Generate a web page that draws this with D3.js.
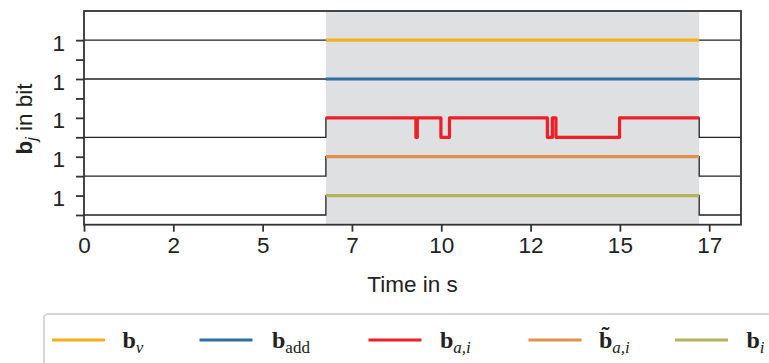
<!DOCTYPE html>
<html>
<head>
<meta charset="utf-8">
<script src="https://cdn.jsdelivr.net/npm/d3@7"></script>
<style>
  html, body { margin: 0; padding: 0; background: #fff; }
  svg { display: block; }
  .tick text { font-family: "Liberation Sans", Arial, sans-serif; }
</style>
</head>
<body>
<svg id="chart" width="769" height="363"></svg>
<script>
// ---- data -------------------------------------------------------------
// Each signal is a step function: value switches at the given times (s).
const seriesNames   = ["b_v", "b_add", "b_a,i", "b~_a,i", "b_i"];
const seriesColors  = ["#f5ae1c", "#2c6ea4", "#ee1f27", "#df904c", "#b4b25b"];
const laneOffsets   = [8, 6, 4, 2, 0];

const bvTimes    = [0];
const bvValues   = [1];
const baddTimes  = [0];
const baddValues = [1];
const baiTimes   = [0, 6.77, 9.29, 9.33, 9.99, 10.23, 12.97, 13.11, 13.21, 14.99, 17.22];
const baiValues  = [0, 1,    0,    1,    0,    1,     0,     1,     0,     1,     0];
const btaiTimes  = [0, 6.77, 17.22];
const btaiValues = [0, 1,    0];
const biTimes    = [0, 6.77, 17.22];
const biValues   = [0, 1,    0];

const activeWindow = [6.77, 17.22];   // shaded interval (s)
const timeDomain   = [0, 18.39];
const xTickValues  = [0, 2.5, 5, 7.5, 10, 12.5, 15, 17.5];
const xTickLabels  = ["0", "2", "5", "7", "10", "12", "15", "17"];
const yTickValues  = [0, 1, 2, 3, 4, 5, 6, 7, 8, 9];
const yTickLabels  = ["", "1", "", "1", "", "1", "", "1", "", "1"];

const signals = [
  { t: bvTimes,   v: bvValues },
  { t: baddTimes, v: baddValues },
  { t: baiTimes,  v: baiValues },
  { t: btaiTimes, v: btaiValues },
  { t: biTimes,   v: biValues }
];

// ---- layout -----------------------------------------------------------
const plot = { left: 84, right: 741, top: 11, bottom: 224.7 };
const svg = d3.select("#chart");
const sans = "Liberation Sans, Arial, sans-serif";

const x = d3.scaleLinear().domain(timeDomain).range([plot.left, plot.right]);
const y = d3.scaleLinear().domain([-0.5, 10.5]).range([plot.bottom, plot.top]);

// shaded interval
svg.append("rect")
  .attr("x", x(activeWindow[0]))
  .attr("y", plot.top)
  .attr("width", x(activeWindow[1]) - x(activeWindow[0]))
  .attr("height", plot.bottom - plot.top)
  .attr("fill", "#dfe0e2");

const line = d3.line().x(d => x(d[0])).y(d => y(d[1])).curve(d3.curveStepAfter);

function valueAt(sig, t) {
  let val = sig.v[0];
  for (let i = 0; i < sig.t.length; i++) if (sig.t[i] <= t) val = sig.v[i];
  return val;
}

// full signal (thin black)
signals.forEach((sig, k) => {
  const pts = sig.t.map((t, i) => [t, sig.v[i] + laneOffsets[k]]);
  pts.push([timeDomain[1], sig.v[sig.v.length - 1] + laneOffsets[k]]);
  svg.append("path")
    .attr("d", line(pts))
    .attr("fill", "none")
    .attr("stroke", "#222")
    .attr("stroke-width", 1.3);
});

// signal inside the shaded interval (thick, coloured)
signals.forEach((sig, k) => {
  const [a, b] = activeWindow;
  const pts = [[a, valueAt(sig, a) + laneOffsets[k]]];
  sig.t.forEach((t, i) => { if (t > a && t < b) pts.push([t, sig.v[i] + laneOffsets[k]]); });
  pts.push([b, pts[pts.length - 1][1]]);
  svg.append("path")
    .attr("d", line(pts))
    .attr("fill", "none")
    .attr("stroke", seriesColors[k])
    .attr("stroke-width", 3.2)
    .attr("stroke-linejoin", "round");
});

// frame
svg.append("rect")
  .attr("x", plot.left).attr("y", plot.top)
  .attr("width", plot.right - plot.left).attr("height", plot.bottom - plot.top)
  .attr("fill", "none").attr("stroke", "#333").attr("stroke-width", 1.8);

// axes
const xAxis = svg.append("g")
  .attr("transform", `translate(0,${plot.bottom})`)
  .call(d3.axisBottom(x).tickValues(xTickValues)
        .tickFormat((d, i) => xTickLabels[i]).tickSize(7).tickPadding(5));
xAxis.select(".domain").remove();
xAxis.selectAll(".tick line").attr("stroke", "#333").attr("stroke-width", 1.8);
xAxis.selectAll(".tick text").attr("font-size", 22.5).attr("fill", "#222");

const yAxis = svg.append("g")
  .attr("transform", `translate(${plot.left},0)`)
  .call(d3.axisLeft(y).tickValues(yTickValues)
        .tickFormat((d, i) => yTickLabels[i]).tickSize(8).tickPadding(11));
yAxis.select(".domain").remove();
yAxis.selectAll(".tick line").attr("stroke", "#333").attr("stroke-width", 1.8);
yAxis.selectAll(".tick text").attr("font-size", 22.5).attr("fill", "#222").attr("dy", "0.45em");

// axis titles
svg.append("text")
  .attr("x", (plot.left + plot.right) / 2).attr("y", 292)
  .attr("text-anchor", "middle")
  .attr("font-family", sans)
  .attr("font-size", 22.5).attr("fill", "#222")
  .text("Time in s");

const yTitle = svg.append("text")
  .attr("transform", "translate(32,119) rotate(-90)")
  .attr("text-anchor", "middle")
  .attr("font-family", sans)
  .attr("font-size", 22.5).attr("fill", "#222");
yTitle.append("tspan").attr("font-weight", "bold").text("b");
yTitle.append("tspan").attr("font-style", "italic").attr("font-size", 16).attr("dy", 5).text("j");
yTitle.append("tspan").attr("dy", -5).text(" in bit");

// ---- legend -----------------------------------------------------------
const legend = svg.append("g");
legend.append("rect")
  .attr("x", 44).attr("y", 314).attr("width", 760).attr("height", 70)
  .attr("rx", 4).attr("fill", "#fff").attr("stroke", "#d6d6d6").attr("stroke-width", 2);

const legendLineX = [52, 199.5, 368.5, 528.5, 675];
const legendTextX = [122.5, 272, 440, 599, 746.5];
const legendY = 340;

seriesNames.forEach((name, k) => {
  legend.append("line")
    .attr("x1", legendLineX[k]).attr("x2", legendLineX[k] + 53)
    .attr("y1", legendY).attr("y2", legendY)
    .attr("stroke", seriesColors[k]).attr("stroke-width", 3.2);

  const [main, sub] = name.split("_");
  const t = legend.append("text")
    .attr("x", legendTextX[k]).attr("y", legendY + 8)
    .attr("font-family", "Liberation Serif, serif").attr("fill", "#222");
  t.append("tspan").attr("font-weight", "bold").attr("font-size", 24)
    .text(main.includes("~") ? "b\u0303" : main);
  t.append("tspan")
    .attr("font-size", 17).attr("dy", 5)
    .attr("font-style", sub === "add" ? "normal" : "italic")
    .text(sub);
});
</script>
</body>
</html>
